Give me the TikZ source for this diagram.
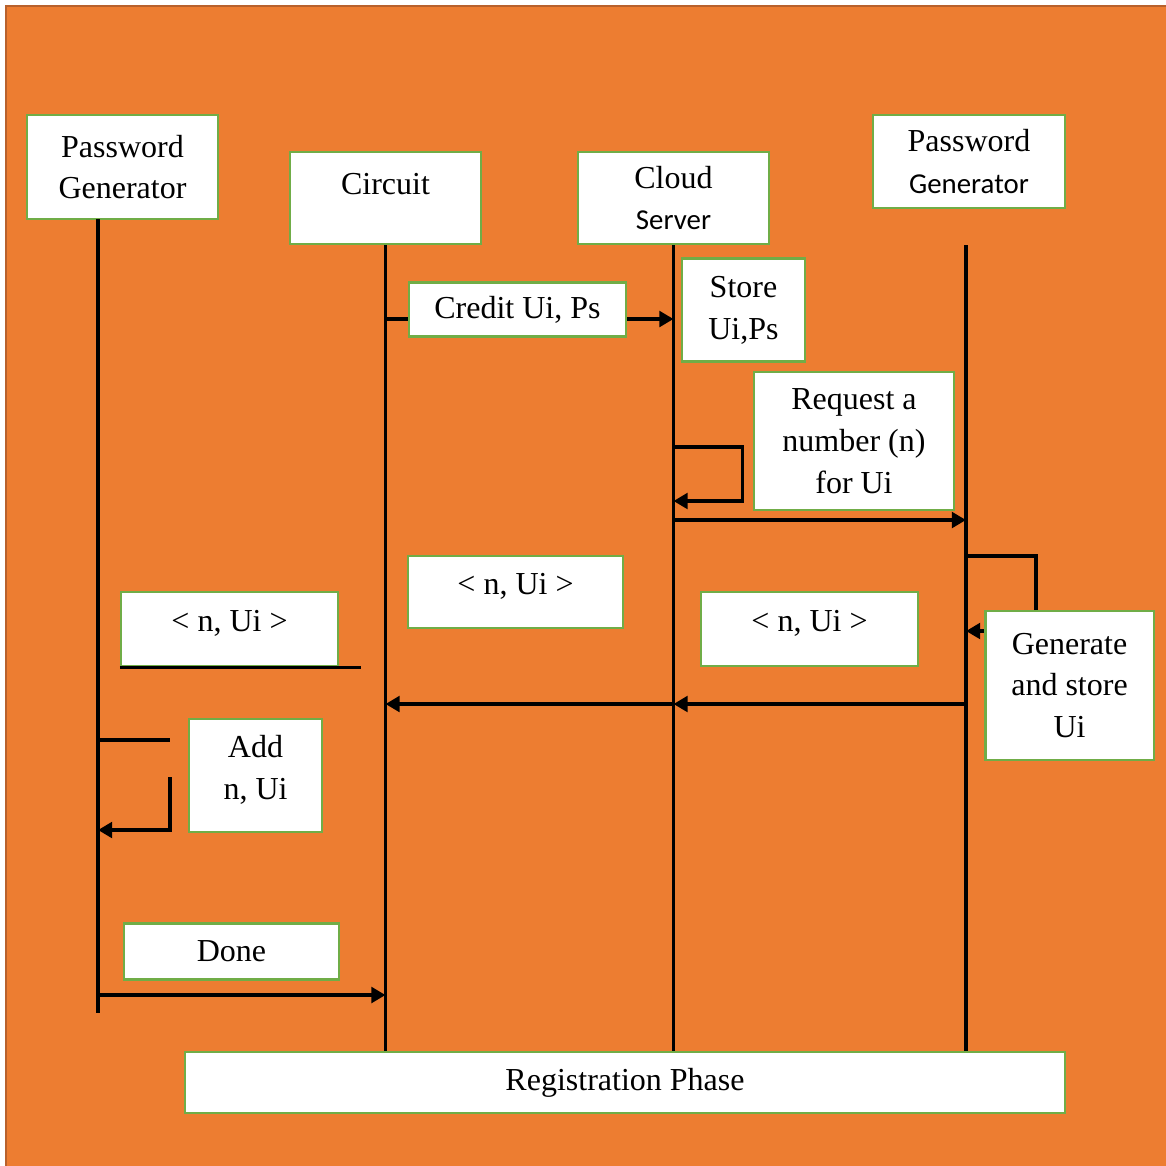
\documentclass[tikz,border=0pt]{standalone}
\usepackage{fontspec}
\setmainfont{Liberation Serif}
\newfontfamily\calibri{Carlito}
\usetikzlibrary{arrows.meta, positioning}
\definecolor{BgOrange}{HTML}{ED7D31}
\definecolor{BgEdge}{HTML}{B8612C}
\definecolor{BoxGreen}{HTML}{70AD47}
\newcommand{\calibritext}[1]{{\calibri\fontsize{8.2pt}{11.9pt}\selectfont #1}}
\tikzset{
  box/.style={draw=BoxGreen, line width=0.6pt, fill=white, inner sep=0pt, align=center,
    font=\fontsize{9.1pt}{11.9pt}\selectfont},
  pairbox/.style={box, text depth=4.5pt},
  lifeline/.style={line width=0.9pt},
  msg/.style={line width=1pt, -{Triangle[length=4pt,width=4.4pt]}},
}
\begin{document}
\begin{tikzpicture}[x=0.01cm, y=-0.01cm]
  % page and frame
  \useasboundingbox (0,0) rectangle (1166,1166);
  \fill[white] (0,0) rectangle (1166,1166);
  \filldraw[fill=BgOrange, draw=BgEdge, line width=0.6pt] (6,6) rectangle (1180,1180);

  % actors
  \node[box, minimum width=1.91cm, minimum height=1.04cm] (pga) at (122.5,167) {Password\\Generator};
  \node[box, minimum width=1.91cm, minimum height=0.92cm, text height=6.3pt, text depth=8.5pt] (circuit) at (385.5,198) {Circuit};
  \node[box, minimum width=1.91cm, minimum height=0.92cm] (cloud) at (673.5,198) {Cloud\\\calibritext{Server}};
  \node[box, minimum width=1.92cm, minimum height=0.93cm] (pgb) at (969,161.5) {Password\\\calibritext{Generator}};
  \node[box, minimum width=8.80cm, minimum height=0.61cm] (phase) at (625,1082.5) {Registration Phase};

  % lifelines
  \coordinate (pgaL) at (98,219);
  \coordinate (pgaE) at (98,1013);
  \coordinate (pgbL) at (966,245);
  \draw[lifeline] (pgaL) -- (pgaE);
  \draw[lifeline] (circuit.south) -- (circuit.south |- phase.north);
  \draw[lifeline] (cloud.south) -- (cloud.south |- phase.north);
  \draw[lifeline] (pgbL) -- (pgbL |- phase.north);

  % messages
  \draw[msg] (circuit.south |- 0,319) -- (cloud.south |- 0,319);
  \draw[msg] (cloud.south |- 0,447) -- ++(69,0) |- (cloud.south |- 0,501);
  \draw[msg] (cloud.south |- 0,520) -- (pgbL |- 0,520);
  \draw[msg] (pgbL |- 0,556) -- ++(70,0) |- (pgbL |- 0,631);
  \draw[msg] (pgbL |- 0,704) -- (cloud.south |- 0,704);
  \draw[msg] (cloud.south |- 0,704) -- (circuit.south |- 0,704);
  \draw[msg, -] (pgaL |- 0,740) -- ++(72,0);
  \coordinate (addret) at (170,777);
  \draw[msg] (addret) |- (pgaL |- 0,830);
  \draw[msg] (pgaL |- 0,995) -- (circuit.south |- 0,995);

  % message labels
  \node[box, minimum width=2.16cm, minimum height=0.54cm] (credit) at (517.5,309.5) {Credit Ui, Ps};
  \node[box, minimum width=1.23cm, minimum height=1.03cm] (store) at (743.5,310) {Store\\Ui,Ps};
  \node[box, minimum width=2.00cm, minimum height=1.38cm] (request) at (854,441) {Request a\\number (n)\\for Ui};
  \node[pairbox, minimum width=2.15cm, minimum height=0.72cm] (nuia) at (515.5,592) {< n, Ui >};
  \node[pairbox, minimum width=2.17cm, minimum height=0.74cm] (nuib) at (809.5,629) {< n, Ui >};
  \node[pairbox, minimum width=2.17cm, minimum height=0.74cm] (nuic) at (229.5,629) {< n, Ui >};
  \node[box, minimum width=1.68cm, minimum height=1.49cm] (generate) at (1069.5,685.5) {Generate\\and store\\Ui};
  \node[pairbox, minimum width=1.33cm, minimum height=1.13cm] (add) at (255.5,775.5) {Add\\n, Ui};
  \node[box, minimum width=2.15cm, minimum height=0.56cm] (done) at (231.5,951.5) {Done};
  \draw[lifeline] (nuic.south west) -- ++(241,0);
\end{tikzpicture}
\end{document}
